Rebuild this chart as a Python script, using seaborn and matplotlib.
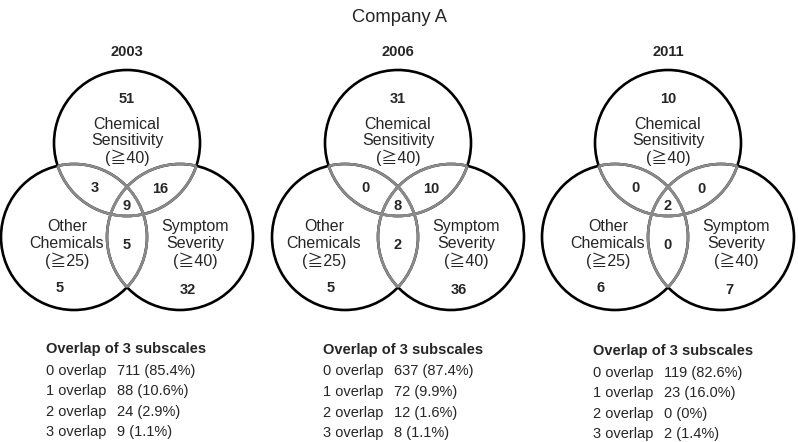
import matplotlib
matplotlib.use("Agg")
import matplotlib.pyplot as plt
from matplotlib.patches import Circle
import seaborn as sns

# data
years = ["2003", "2006", "2011"]
only_cs = [51, 31, 10]      # Chemical Sensitivity only
only_oc = [5, 5, 6]         # Other Chemicals only
only_ss = [32, 36, 7]       # Symptom Severity only
cs_oc = [3, 0, 0]
cs_ss = [16, 10, 0]
oc_ss = [5, 2, 0]
all_three = [9, 8, 2]
overlap_levels = ["0 overlap", "1 overlap", "2 overlap", "3 overlap"]
overlap_n = [[711, 88, 24, 9], [637, 72, 12, 8], [119, 23, 0, 2]]
overlap_pct = [[85.4, 10.6, 2.9, 1.1], [87.4, 9.9, 1.6, 1.1], [82.6, 16.0, 0, 1.4]]

# layout (pixels)
panel_x = [127, 398, 668]
other_x = [67, 324, 608]
table_x = [46, 323, 593]
table_y = [349, 350, 351]
R = 73
top_y, bot_y = 143, 237
dx_side = 53

sns.set_theme(style="white")
plt.rcParams["font.family"] = ["Liberation Sans", "Noto Sans CJK JP", "DejaVu Sans"]

fig = plt.figure(figsize=(7.98, 4.42), dpi=100)
ax = fig.add_axes([0, 0, 1, 1])
ax.set_xlim(0, 798)
ax.set_ylim(442, 0)
ax.axis("off")

ax.text(399, 18, "Company A", ha="center", va="center", fontsize=13.2)

gray = "#8a8a8a"
lw = 1.9
num_kw = dict(ha="center", va="center", fontsize=10.5, fontweight="bold")
lab_kw = dict(ha="center", va="center", fontsize=11.5, linespacing=1.1)

for i, yr in enumerate(years):
    cx = panel_x[i]
    centers = [(cx, top_y), (cx - dx_side, bot_y), (cx + dx_side, bot_y)]

    # black outlines
    for c in centers:
        ax.add_patch(Circle(c, R, fill=False, ec="black", lw=lw, zorder=2))
    # inner arcs in gray: each outline clipped to the other circles
    for a, ca in enumerate(centers):
        for b, cb in enumerate(centers):
            if a == b:
                continue
            clip = Circle(cb, R, transform=ax.transData)
            arc = Circle(ca, R, fill=False, ec=gray, lw=lw, zorder=3)
            ax.add_patch(arc)
            arc.set_clip_path(clip)

    ax.text(cx, 52, yr, **num_kw)

    ax.text(cx, 99, str(only_cs[i]), **num_kw)
    ax.text(cx - 32, 188, str(cs_oc[i]), **num_kw)
    ax.text(cx + 33, 189, str(cs_ss[i]), **num_kw)
    ax.text(cx, 206, str(all_three[i]), **num_kw)
    ax.text(cx, 245, str(oc_ss[i]), **num_kw)
    ax.text(cx - 67, 288, str(only_oc[i]), **num_kw)
    ax.text(cx + 61, 290, str(only_ss[i]), **num_kw)

    ax.text(cx, 141.5, "Chemical\nSensitivity\n(≧40)", **lab_kw)
    ax.text(other_x[i], 244, "Other\nChemicals\n(≧25)", **lab_kw)
    ax.text(cx + 68, 244, "Symptom\nSeverity\n(≧40)", **lab_kw)

    # overlap table
    tx, ty = table_x[i], table_y[i]
    ax.text(tx, ty, "Overlap of 3 subscales", ha="left", va="center",
            fontsize=10.5, fontweight="bold")
    for k, lev in enumerate(overlap_levels):
        y = ty + 21.5 + 20.6 * k
        p = overlap_pct[i][k]
        ptxt = "0%" if p == 0 else f"{p:.1f}%"
        ax.text(tx, y, lev, ha="left", va="center", fontsize=10.5)
        ax.text(tx + 71, y, f"{overlap_n[i][k]} ({ptxt})", ha="left", va="center", fontsize=10.5)

fig.savefig("out.png", dpi=100)
